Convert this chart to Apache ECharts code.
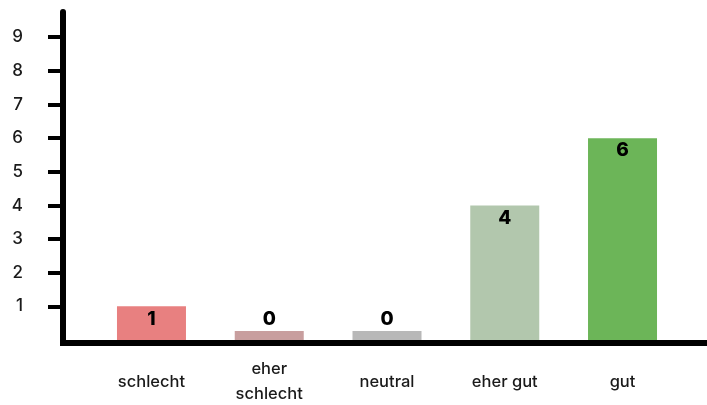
<!DOCTYPE html>
<html>
<head>
<meta charset="utf-8">
<script src="https://cdn.jsdelivr.net/npm/echarts@6/dist/echarts.min.js"></script>
<style>
html,body{margin:0;padding:0;background:#fff;}
#chart{width:707px;height:405px;}
</style>
</head>
<body>
<div id="chart"></div>
<script>
const categories = ['schlecht', 'eher\nschlecht', 'neutral', 'eher gut', 'gut'];
const values = [1, 0, 0, 4, 6];
const barColors = ['#E88080', '#C89E9E', '#B8B8B8', '#B2C7AD', '#6CB558'];
const yTicks = [1, 2, 3, 4, 5, 6, 7, 8, 9];
const yMax = 9.75;

const FONT = 'Inter, "Noto Sans", sans-serif';
const chart = echarts.init(document.getElementById('chart'), null, {renderer: 'canvas'});

const barData = values.map((v, i) => ({
  value: v,
  itemStyle: {color: barColors[i]},
  label: v === 0 ? {position: 'top', distance: 2} : {position: 'insideTop', distance: 3}
}));

chart.setOption({
  animation: false,
  backgroundColor: '#ffffff',
  grid: [
    {left: 92.6, right: 25.6, top: 12, bottom: 65, outerBoundsMode: 'none', containLabel: false},
    {left: 63, right: 3, top: 12, bottom: 65, outerBoundsMode: 'none', containLabel: false}
  ],
  xAxis: [
    {
      type: 'category', gridIndex: 0, data: categories,
      axisLine: {show: false}, axisTick: {show: false},
      axisLabel: {
        color: '#1a1a1a', fontFamily: FONT, fontSize: 16.5, fontWeight: 500,
        lineHeight: 25, verticalAlign: 'middle', margin: 42, interval: 0
      }
    },
    {
      type: 'value', gridIndex: 1, min: 0, max: 1, offset: 3,
      axisLine: {show: true, onZero: false, lineStyle: {color: '#000', width: 6, cap: 'square'}},
      axisTick: {show: false}, axisLabel: {show: false}, splitLine: {show: false}
    }
  ],
  yAxis: [
    {
      type: 'value', gridIndex: 0, min: 0, max: yMax, show: false, splitLine: {show: false}
    },
    {
      type: 'value', gridIndex: 1, min: 0, max: yMax,
      axisLine: {show: true, onZero: false, lineStyle: {color: '#000', width: 6}},
      axisTick: {show: true, length: 15, customValues: yTicks, lineStyle: {color: '#000', width: 4}},
      axisLabel: {show: true, customValues: yTicks, color: '#1a1a1a', fontFamily: FONT, fontSize: 17, fontWeight: 500, margin: 40, align: 'right'},
      splitLine: {show: false}
    }
  ],
  series: [{
    type: 'bar', xAxisIndex: 0, yAxisIndex: 0,
    data: barData,
    barWidth: 69,
    barMinHeight: 9,
    label: {show: true, color: '#000', fontFamily: FONT, fontWeight: 800, fontSize: 19}
  }]
});
</script>
</body>
</html>
